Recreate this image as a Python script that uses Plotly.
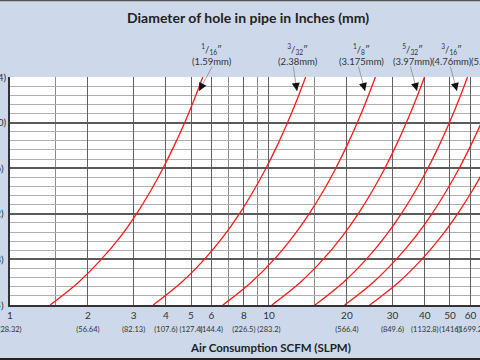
import math
import plotly.graph_objects as go

# ---------------- data ----------------
pressure_psi = [20, 30, 40, 50, 60, 70, 80, 90, 100, 110, 120]

hole_labels = ["1/16", "3/32", "1/8", "5/32", "3/16", "7/32", "1/4"]
flow_1_16 = [1.43, 1.84, 2.25, 2.67, 3.08, 3.49, 3.90, 4.31, 4.73, 5.14, 5.55]
flow_3_32 = [3.57, 4.60, 5.63, 6.66, 7.69, 8.71, 9.74, 10.77, 11.80, 12.83, 13.86]
flow_1_8 = [6.64, 8.55, 10.47, 12.38, 14.29, 16.21, 18.12, 20.03, 21.95, 23.86, 25.77]
flow_5_32 = [10.27, 13.23, 16.19, 19.15, 22.11, 25.07, 28.03, 30.99, 33.95, 36.91, 39.87]
flow_3_16 = [15.06, 19.40, 23.74, 28.08, 32.42, 36.76, 41.10, 45.44, 49.78, 54.12, 58.46]
flow_7_32 = [19.6, 25.3, 31.0, 36.8, 42.6, 48.4, 54.3, 60.2, 66.1, 72.0, 78.0]
flow_1_4 = [24.5, 31.7, 38.9, 46.2, 53.5, 60.9, 68.3, 75.7, 83.1, 90.5, 98.0]
all_flows = [flow_1_16, flow_3_32, flow_1_8, flow_5_32, flow_3_16, flow_7_32, flow_1_4]

x_tick_vals = [1, 2, 3, 4, 5, 6, 8, 10, 20, 30, 40, 50, 60]
x_tick_slpm = ["28.32", "56.64", "82.13", "107.6", "127.4", "144.4", "226.5",
               "283.2", "566.4", "849.6", "1132.8", "1416", "1699.2"]
x_minor_vals = [1.5, 7, 9, 15]

y_tick_vals = [20, 40, 60, 80, 100, 120]
y_tick_kgf = ["1.4", "2.8", "4.2", "5.6", "7.0", "8.4"]

hole_names = [("1", "16", "1.59mm"), ("3", "32", "2.38mm"), ("1", "8", "3.175mm"),
              ("5", "32", "3.97mm"), ("3", "16", "4.76mm"), ("7", "32", "5.56mm")]

# ---------------- figure ----------------
FONT = "Lato, 'Open Sans', sans-serif"
fig = go.Figure()
for name, fl in zip(hole_labels, all_flows):
    fig.add_trace(go.Scatter(x=fl, y=pressure_psi, mode="lines", name=name,
                             line=dict(color="#ff1a1a", width=1.3, shape="spline"),
                             showlegend=False, cliponaxis=True))

x_ticktext = [f"{v}<br><span style='font-size:7.5px'>({s})</span>" for v, s in zip(x_tick_vals, x_tick_slpm)]
pad = {120: "", 100: "", 80: "\u00a0", 60: "\u00a0", 40: "\u00a0", 20: "\u00a0"}
y_ticktext = [f"{v} ({k}){pad[v]}" for v, k in zip(y_tick_vals, y_tick_kgf)]

fig.update_layout(
    width=480, height=360,
    margin=dict(l=10, r=0, t=77, b=55),
    paper_bgcolor="#cdd9eb", plot_bgcolor="white",
    font=dict(family=FONT, size=10, color="#333"),
    xaxis=dict(type="log", range=[0, 1.815], tickmode="array", tickvals=x_tick_vals,
               ticktext=x_ticktext, tickangle=0, ticklabeloverflow="allow",
               showgrid=True, gridcolor="#606060", gridwidth=1,
               zeroline=False, showline=True, linecolor="#333", linewidth=1.5,
               ticks="", tickfont=dict(size=10, color="#333"), automargin=False,
               minor=dict(tickmode="array", tickvals=x_minor_vals, showgrid=True,
                          gridcolor="#8a8a8a", gridwidth=1, ticks="")),
    yaxis=dict(range=[20, 120], tickmode="array", tickvals=y_tick_vals, ticktext=y_ticktext,
               ticklabeloverflow="allow",
               showgrid=True, gridcolor="#5a5a5a", gridwidth=1.5, zeroline=False,
               showline=True, linecolor="#333", linewidth=1.5, mirror=True,
               ticks="", tickfont=dict(size=10, color="#333"), automargin=False,
               minor=dict(dtick=4, tick0=20, showgrid=True, gridcolor="#b0b0b0",
                          gridwidth=1, ticks="")),
)

# title and axis title
fig.add_annotation(text="<b>Diameter of hole in pipe in Inches (mm)</b>", xref="paper", yref="paper",
                   x=(248 - 10) / 470, y=(305 - 17) / 228, showarrow=False,
                   font=dict(size=14, color="#222", family=FONT), xanchor="center", yanchor="middle")
fig.add_annotation(text="<b>Air Consumption SCFM (SLPM)</b>", xref="paper", yref="paper",
                   x=(270 - 10) / 470, y=(305 - 347) / 228, showarrow=False,
                   font=dict(size=11.5, color="#222", family=FONT), xanchor="center", yanchor="middle")

# hole size labels
label_px = [212, 298, 361, 413, 452, 491]
for (num, den, mm), px in zip(hole_names, label_px):
    fig.add_annotation(text=f"<sup>{num}</sup>/<sub>{den}</sub>″<br>({mm})", xref="paper", yref="paper",
                       x=(px - 10) / 470, y=(305 - 69) / 228, showarrow=False, xanchor="center",
                       yanchor="bottom", font=dict(size=9.5, color="#333", family=FONT))

# arrows: tip (data) + tail offsets (px)
tips = [(5.37, 113.9, 14, -26), (12.83, 113.9, -4, -26), (23.5, 113.9, -7, -26),
        (37.3, 113.9, -7, -26), (53.2, 113.9, -7, -26)]
for tx, ty, ax, ay in tips:
    fig.add_annotation(x=math.log10(tx), y=ty, xref="x", yref="y", ax=ax, ay=ay, text="",
                       showarrow=True, arrowhead=0, arrowwidth=0.8, arrowcolor="#8c8c8c")
    L = math.hypot(ax, ay)
    fig.add_annotation(x=math.log10(tx), y=ty, xref="x", yref="y", ax=ax * 9 / L, ay=ay * 9 / L, text="",
                       showarrow=True, arrowhead=2, arrowsize=1.6, arrowwidth=1, arrowcolor="#111")

# frame lines (top / bottom of picture)
fig.add_shape(type="line", xref="paper", yref="paper", x0=-0.03, x1=1.01,
              y0=(305 - 0.5) / 228, y1=(305 - 0.5) / 228, line=dict(color="#555", width=1.5))
fig.add_shape(type="line", xref="paper", yref="paper", x0=-0.03, x1=1.01,
              y0=(305 - 359) / 228, y1=(305 - 359) / 228, line=dict(color="#222", width=2))

fig.write_html("out.html", config={"displayModeBar": False},
               post_script="document.body.style.margin='0';document.body.style.padding='0';")
